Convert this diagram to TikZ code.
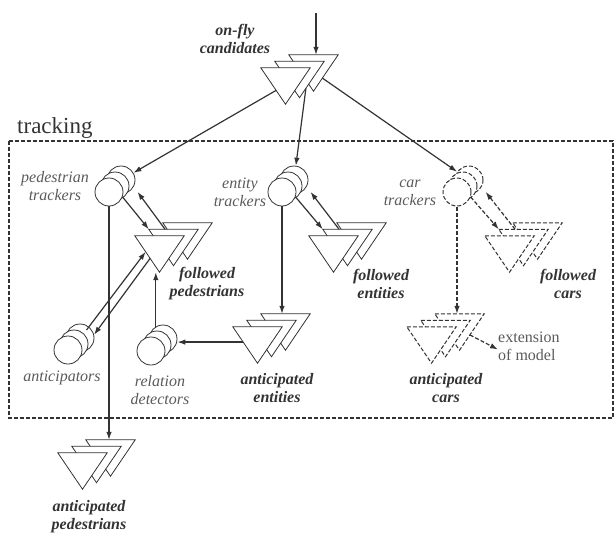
\documentclass[tikz,border=0pt]{standalone}
\usepackage{fontspec}
\setmainfont{Liberation Serif}
\usepackage{tikz}
\usetikzlibrary{calc, arrows.meta}
\definecolor{grisfonce}{RGB}{51, 51, 51}
\definecolor{grismoyen}{RGB}{90, 90, 90}
\tikzset{
  trait/.style={draw=grisfonce, line width=0.8pt, fill=white, line join=miter},
  boite/.style={inner sep=0pt, minimum width=49pt, minimum height=36pt},
  disque/.style={circle, trait, minimum size=28pt, inner sep=0pt},
  pointille/.style={dash pattern=on 4pt off 2pt},
  fleche/.style={draw=grisfonce, line width=1.2pt, -{Latex[length=8pt,width=5.5pt]}},
  etiquette/.style={text=grismoyen, align=center, inner sep=0pt,
    font=\itshape\fontsize{16}{18}\selectfont},
  gras/.style={etiquette, text=grisfonce,
    font=\bfseries\itshape\fontsize{16}{18}\selectfont}
}
\newcommand{\pile}[3][]{%
  \foreach \k/\d in {3/2,2/1,1/0}{%
    \node[boite] (#2\k) at ($(#3)+(14*\d,-6.5*\d)$) {};
    \draw[trait,#1] (#2\k.north west) -- (#2\k.north east) -- (#2\k.south) -- cycle;
  }%
}
\newcommand{\tambour}[3][]{%
  \foreach \k/\d in {3/2,2/1,1/0}{%
    \node[disque,#1] (#2\k) at ($(#3)+(6*\d,-6*\d)$) {};
  }%
}

\begin{document}
\begin{tikzpicture}[x=1pt, y=-1pt]
  \useasboundingbox (0,0) rectangle (616,533);

  \draw[grisfonce, line width=1.1pt, dash pattern=on 4pt off 2pt]
    (9,141) rectangle (613,418);
  \node[anchor=base west, inner sep=0pt, text=grisfonce,
        font=\fontsize{23}{25}\selectfont] (tracking) at (17,133) {tracking};

  \pile{of}{285.5,86}
  \pile{fp}{159.5,254}
  \pile{fe}{333.5,254}
  \pile[pointille, line width=1pt]{fc}{509.5,254}
  \pile{ae}{257.5,345}
  \pile[pointille, line width=1pt]{ac}{431.5,345}
  \pile{ap}{82.5,471}

  \tambour{pt}{109,192}
  \tambour{et}{282,192}
  \tambour[pointille, line width=1pt]{ct}{457,192}
  \tambour{an}{68,350}
  \tambour{rd}{151,351}

  \node[gras] (ofl) at (235,39) {on-fly\\candidates};
  \node[etiquette] (ptl) at (55,186) {pedestrian\\trackers};
  \node[gras] (fpl) at (207,284) {followed\\pedestrians};
  \node[etiquette] (etl) at (240,192) {entity\\trackers};
  \node[gras] (fel) at (381,284) {followed\\entities};
  \node[etiquette] (ctl) at (410,193) {car\\trackers};
  \node[gras] (fcl) at (568,284) {followed\\cars};
  \node[etiquette] (anl) at (62,378) {anticipators};
  \node[etiquette] (rdl) at (160,390) {relation\\detectors};
  \node[gras] (ael) at (277,388) {anticipated\\entities};
  \node[gras] (acl) at (446,388) {anticipated\\cars};
  \node[gras] (apl) at (89,517) {anticipated\\pedestrians};
  \node[etiquette, font=\fontsize{16}{18}\selectfont, align=left,
        anchor=west] (ext) at (498,346.5) {extension\\of model};

  \coordinate (entree) at (316,13);
  \coordinate (ae-g) at ($(ae1.north west)!0.42!(ae1.south)$);
  \draw[fleche] (entree) -- (entree |- of3.north);
  \draw[fleche] ($(of1.north west)!0.62!(of1.south)$) -- (pt3);
  \draw[fleche] ($(of2.north east)!0.74!(of2.south)$) -- (et3);
  \draw[fleche] ($(of3.north east)!0.64!(of3.south)$) -- (ct3);

  \draw[fleche] (pt1.-20) -- (fp2.north west);
  \draw[fleche] ($(fp2.north west)!0.33!(fp2.north east)$) -- ($(pt1.-20)+(15,-5)$);
  \draw[fleche] (pt1.south) -- (pt1.south |- ap3.north);
  \draw[fleche] ($(an3)+(6.5,-8)$) -- ($(fp1.north west)!0.44!(fp1.south)$);
  \draw[fleche] ($(fp1.north west)!0.62!(fp1.south)$) -- (an3.13);
  \draw[fleche] (rd3.120) -- (rd3.120 |- fp1.south);

  \draw[fleche] (et1.-20) -- (fe2.north west);
  \draw[fleche] ($(fe2.north west)!0.33!(fe2.north east)$) -- ($(et1.-20)+(15,-5)$);
  \draw[fleche] (et1.south) -- (et1.south |- ae3.north);
  \draw[fleche] (ae-g) -- (ae-g -| rd3.east);

  \draw[fleche, pointille] (ct1.-20) -- (fc2.north west);
  \draw[fleche, pointille] ($(fc2.north west)!0.33!(fc2.north east)$) -- ($(ct1.-20)+(15,-5)$);
  \draw[fleche, pointille] (ct1.south) -- (ct1.south |- ac3.north);
  \draw[fleche, pointille] ($(ac3.north east)!0.58!(ac3.south)$) -- ($(ext.west)+(0,3)$);
\end{tikzpicture}
\end{document}
